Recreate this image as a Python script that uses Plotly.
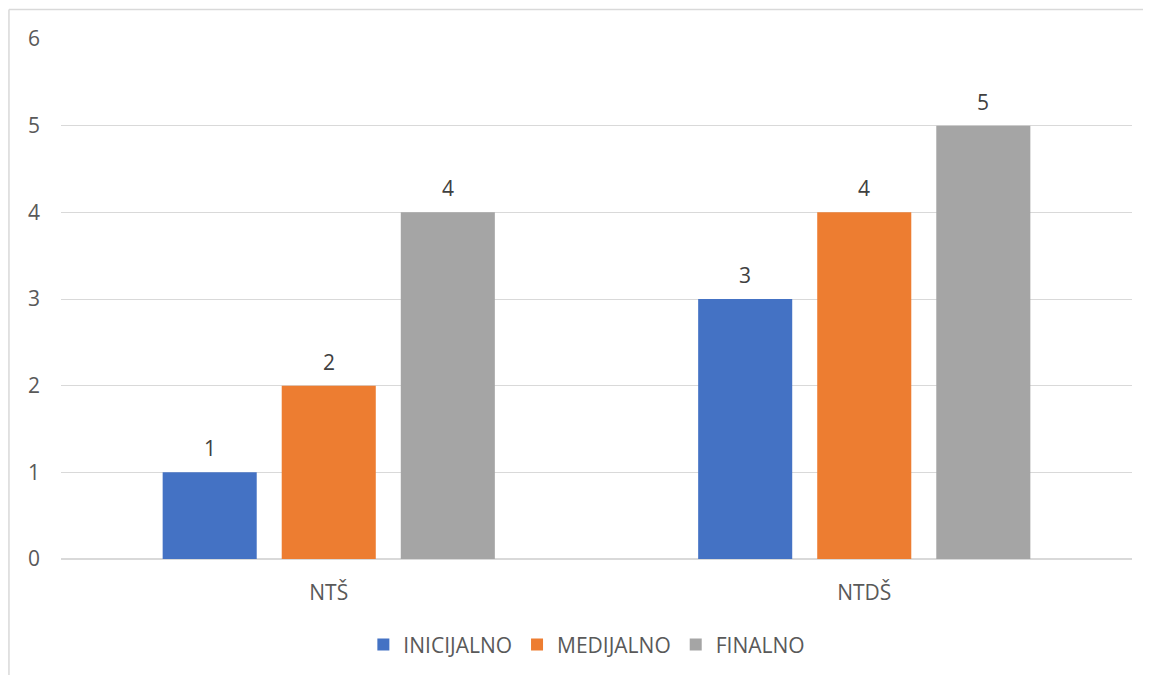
import plotly.graph_objects as go

categories = ["NTŠ", "NTDŠ"]
series_names = ["INICIJALNO", "MEDIJALNO", "FINALNO"]
inicijalno = [1, 3]
medijalno = [2, 4]
finalno = [4, 5]
colors = ["#4472C4", "#ED7D31", "#A5A5A5"]
y_ticks = [0, 1, 2, 3, 4, 5, 6]

FONT = "Open Sans"
FS = 21
BARGAP = 0.333
BARGROUPGAP = 0.21

values = [inicijalno, medijalno, finalno]
fig = go.Figure()
for name, vals, col in zip(series_names, values, colors):
    fig.add_trace(go.Bar(x=categories, y=vals, name=name, marker_color=col,
                         marker_line_width=0, hoverinfo="skip"))

# data labels above bars
n = len(series_names)
slot = (1 - BARGAP) / n
for i, vals in enumerate(values):
    for ci, v in enumerate(vals):
        fig.add_annotation(x=ci + (i - (n - 1) / 2) * slot, y=v, xref="x", yref="y",
                           text=str(v), showarrow=False, yanchor="bottom", yshift=8,
                           font=dict(family=FONT, size=FS, color="#404040"))

# chart-area border (top and left visible)
fig.add_shape(type="line", xref="paper", yref="paper", x0=-0.0486, x1=1.1,
              y0=1.0567, y1=1.0567, line=dict(color="#D9D9D9", width=1.5))
fig.add_shape(type="line", xref="paper", yref="paper", x0=-0.0486, x1=-0.0486,
              y0=-0.3, y1=1.0567, line=dict(color="#D9D9D9", width=1.5))

fig.update_layout(
    width=1151, height=675,
    margin=dict(l=53, r=27, t=31, b=124),
    paper_bgcolor="white", plot_bgcolor="white",
    barmode="group", bargap=BARGAP, bargroupgap=BARGROUPGAP,
    font=dict(family=FONT, size=FS, color="#595959"),
    showlegend=True,
    legend=dict(orientation="h", x=0.491, xanchor="center", y=-0.165, yanchor="middle",
                font=dict(family=FONT, size=FS, color="#595959"),
                itemwidth=30, traceorder="normal"),
    xaxis=dict(type="category", showgrid=False, showline=False, ticks="",
               ticklabelstandoff=19, tickfont=dict(family=FONT, size=FS, color="#595959")),
    yaxis=dict(range=[0, 6], tickvals=y_ticks, showgrid=True, gridcolor="#D9D9D9",
               gridwidth=1, zeroline=True, zerolinecolor="#D9D9D9", zerolinewidth=1.5,
               showline=False, ticks="", ticklabelstandoff=20,
               tickfont=dict(family=FONT, size=FS, color="#595959")),
)

fig.write_html("out.html")
